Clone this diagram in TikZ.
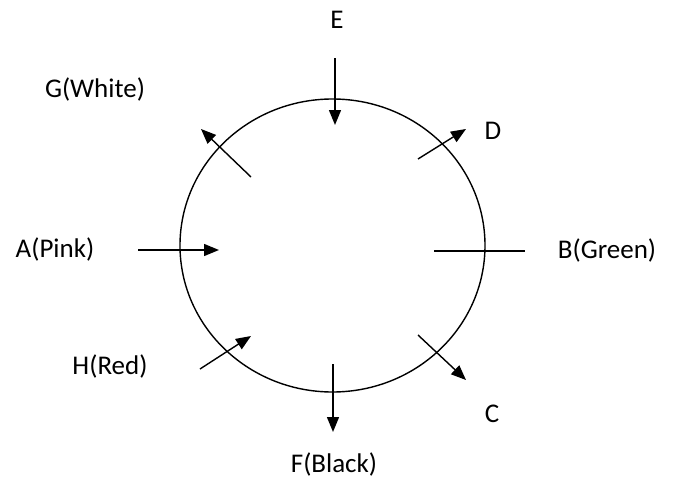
\documentclass[tikz,border=0pt]{standalone}
\usepackage{fontspec}
\setmainfont{Carlito}
\usetikzlibrary{arrows.meta}
\tikzset{
  lbl/.style={font=\fontsize{27}{32}\selectfont, inner sep=0pt},
  pin/.style={line width=1.4pt, -{Triangle[length=15pt,width=12pt]}},
  bar/.style={line width=1.4pt}
}
\begin{document}
\begin{tikzpicture}[x=1pt,y=-1pt]
	\useasboundingbox (0,0) rectangle (673,479);
	\def\rx{152.5}
	\def\ry{146.5}
	\coordinate (o) at (332.5,245.5);
	\draw[bar] (o) ellipse [x radius=\rx, y radius=\ry];
	
	\node[lbl] (e) at (337,20) {E};
	\node[lbl] (g) at (95,89) {G(White)};
	\node[lbl] (d) at (493,131) {D};
	\node[lbl] (a) at (55,249) {A(Pink)};
	\node[lbl] (b) at (607,250) {B(Green)};
	\node[lbl] (h) at (110,366) {H(Red)};
	\node[lbl] (c) at (492,414) {C};
	\node[lbl] (f) at (334,464) {F(Black)};
	
	
	\coordinate (e1) at (335,58);
	\coordinate (e2) at (335,125);
	\coordinate (d1) at (418,159);
	\coordinate (d2) at (466,129);
	\coordinate (g1) at (251,177);
	\coordinate (g2) at (201,129);
	\coordinate (a1) at (138,250);
	\coordinate (a2) at (219,250);
	\coordinate (b1) at (434,251);
	\coordinate (b2) at (525,251);
	\coordinate (h1) at (200,369);
	\coordinate (h2) at (251,336);
	\coordinate (c1) at (418,335);
	\coordinate (c2) at (466,380);
	\coordinate (f1) at (333,364);
	\coordinate (f2) at (333,432);
	\draw[pin] (e1) -- (e2);
	\draw[pin] (d1) -- (d2);
	\draw[pin] (g1) -- (g2);
	\draw[pin] (a1) -- (a2);
	\draw[bar] (b1) -- (b2);
	\draw[pin] (h1) -- (h2);
	\draw[pin] (c1) -- (c2);
	\draw[pin] (f1) -- (f2);
\end{tikzpicture}
\end{document}
